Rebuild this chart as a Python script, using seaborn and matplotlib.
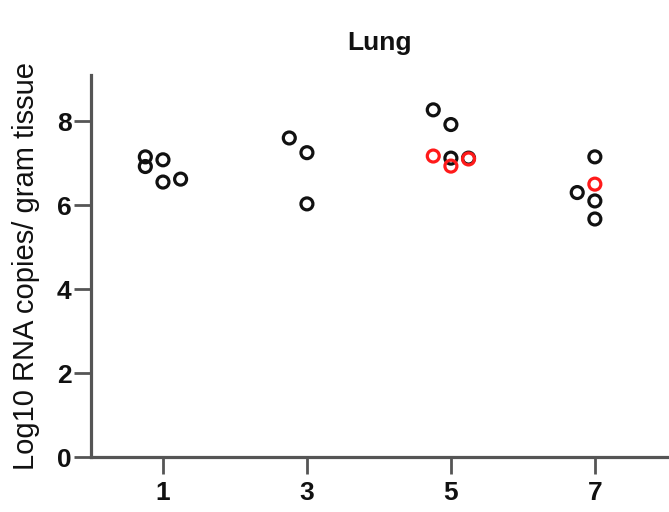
import matplotlib
matplotlib.use("Agg")
import matplotlib.pyplot as plt
import numpy as np
import pandas as pd
import seaborn as sns

# Lung viral load per animal, grouped by day post infection
days = [1, 1, 1, 1, 1,
        3, 3, 3,
        5, 5, 5, 5, 5, 5, 5,
        7, 7, 7, 7, 7]
log10_copies = [7.15, 6.92, 7.08, 6.55, 6.62,
                7.60, 7.25, 6.03,
                8.27, 7.92, 7.17, 7.12, 6.93, 7.12, 7.10,
                7.15, 6.50, 6.30, 6.10, 5.67]
group = ["A", "A", "A", "A", "A",
         "A", "A", "A",
         "A", "A", "B", "A", "B", "A", "B",
         "A", "B", "A", "A", "A"]
# column slot used to spread overlapping points within a day
slot = [-1, -1, 0, 0, 1,
        -1, 0, 0,
        -1, 0, -1, 0, 0, 1, 1,
        0, 0, -1, 0, 0]

day_ticks = [1, 3, 5, 7]
y_ticks = [0, 2, 4, 6, 8]

df = pd.DataFrame({"day": days, "value": log10_copies,
                   "group": group, "slot": slot})
df["xpos"] = df["day"] + 0.245 * df["slot"]

sns.set_theme(style="ticks")
plt.rcParams["font.family"] = ["Liberation Sans", "DejaVu Sans"]

fig = plt.figure(figsize=(6.69, 5.12), dpi=100)
ax = fig.add_axes([0.136, 0.1074, 0.864, 0.7461])

sns.scatterplot(data=df, x="xpos", y="value", hue="group",
                palette={"A": "#111111", "B": "#ff1a1a"},
                marker="o", s=74, facecolors="none", linewidth=2.3,
                legend=False, ax=ax, zorder=3)
# open circles: edge takes the hue colour
for coll in ax.collections:
    ec = coll.get_facecolors()
    coll.set_edgecolors(ec)
    coll.set_facecolors("none")

ax.set_xlim(0, 8.03)
ax.set_ylim(0, 9.1)
ax.set_xticks(day_ticks)
ax.set_xticklabels([str(d) for d in day_ticks])
ax.set_yticks(y_ticks)
ax.set_yticklabels([str(v) for v in y_ticks])

axis_color = "#555555"
for side in ["top", "right"]:
    ax.spines[side].set_visible(False)
for side in ["left", "bottom"]:
    ax.spines[side].set_color(axis_color)
    ax.spines[side].set_linewidth(2.3)
ax.tick_params(axis="both", length=12, width=2.0, color=axis_color,
               labelsize=19, labelcolor="#111111")
ax.tick_params(axis="y", pad=2)
ax.tick_params(axis="x", pad=5)
for lab in ax.get_xticklabels() + ax.get_yticklabels():
    lab.set_fontweight("bold")

ax.set_xlabel("")
ax.set_ylabel("Log10 RNA copies/ gram tissue", fontsize=21,
              color="#111111", labelpad=12)
ax.set_title("Lung", fontsize=19, fontweight="bold", color="#111111", pad=18)

fig.savefig("out.png", dpi=100)
